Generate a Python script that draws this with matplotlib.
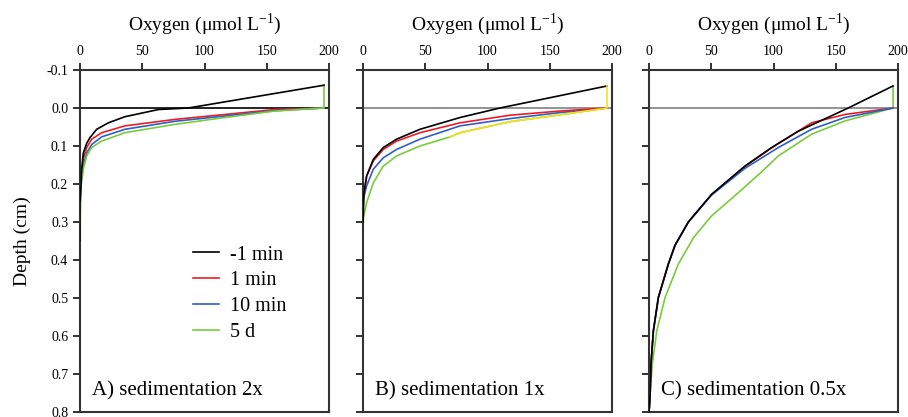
"""
Oxygen depth profiles after sedimentation events (three panels)"""
import numpy as np
import matplotlib
matplotlib.use("Agg")
import matplotlib.pyplot as plt

plt.rcParams['font.family'] = ['Liberation Serif', 'DejaVu Serif']
plt.rcParams['mathtext.fontset'] = 'custom'
plt.rcParams['mathtext.rm'] = 'Liberation Serif'

labels = ['-1 min', '1 min', '10 min', '5 d']
colors = ['black', '#ee1c24', '#2e5fc4', '#78cc3c']
panel_titles = ['A) sedimentation 2x', 'B) sedimentation 1x', 'C) sedimentation 0.5x']
x_ticks = [0, 50, 100, 150, 200]
y_ticks = [-0.1, 0.0, 0.1, 0.2, 0.3, 0.4, 0.5, 0.6, 0.7, 0.8]

# panel A  (oxygen, depth)
a_black_x = [196, 87, 63, 36, 22.8, 13.4, 8, 5.4, 2.7, 1.3, 0.8, 0, 0]
a_black_y = [-0.06, 0.0, 0.004, 0.023, 0.039, 0.056, 0.078, 0.0925, 0.118, 0.162, 0.206, 0.25, 0.35]
a_red_x = [196, 156.6, 116.4, 76.3, 36.1, 17.4, 9.4, 5.4, 2.7, 1.3, 0.5, 0]
a_red_y = [0.0, 0.004, 0.017, 0.030, 0.047, 0.065, 0.082, 0.104, 0.133, 0.177, 0.21, 0.26]
a_blue_x = [196, 156.6, 116.4, 76.3, 36.1, 17.4, 9.4, 5.4, 2.7, 0.8, 0.3, 0]
a_blue_y = [0.0, 0.007, 0.021, 0.035, 0.056, 0.076, 0.096, 0.118, 0.153, 0.196, 0.23, 0.3]
a_green_x = [196, 196, 156.6, 116.4, 76.3, 36.1, 17.4, 9.4, 5.4, 2.7, 0.8, 0.3, 0]
a_green_y = [-0.06, 0.0, 0.008, 0.025, 0.043, 0.065, 0.087, 0.104, 0.126, 0.161, 0.206, 0.26, 0.35]

# panel B
b_black_x = [196, 110, 78, 45.8, 27, 16.3, 8.3, 2.9, 0.8, 0]
b_black_y = [-0.058, 0.0, 0.025, 0.056, 0.082, 0.104, 0.135, 0.179, 0.223, 0.30]
b_red_x = [196, 158, 118, 78, 45.8, 27, 16.3, 8.3, 2.9, 0.3, 0]
b_red_y = [0.0, 0.008, 0.019, 0.039, 0.065, 0.087, 0.109, 0.139, 0.18, 0.23, 0.27]
b_blue_x = [196, 158, 118, 78, 45.8, 27, 16.3, 8.3, 2.9, 0.3, 0]
b_blue_y = [0.0, 0.012, 0.028, 0.047, 0.082, 0.109, 0.131, 0.161, 0.205, 0.24, 0.28]
b_green_x = [196, 158, 118, 78, 70, 45.8, 27, 16.3, 8.3, 2.9, 0.3, 0]
b_green_y = [0.0, 0.018, 0.036, 0.065, 0.076, 0.1, 0.126, 0.153, 0.197, 0.249, 0.29, 0.32]
b_yellow_x = [196, 196, 158, 118, 78, 70]
b_yellow_y = [-0.058, 0.0, 0.018, 0.036, 0.065, 0.076]

# panel C
c_black_x = [196, 160, 120, 98.5, 77, 50.3, 31.6, 20.9, 15.5, 7.5, 3.5, 1.6, 0.8, 0]
c_black_y = [-0.058, 0.0, 0.061, 0.104, 0.153, 0.227, 0.30, 0.361, 0.411, 0.499, 0.587, 0.674, 0.762, 0.8]
c_red_x = [196, 157.4, 130.6, 109, 98.5, 77, 50.3, 31.6, 20.9, 15.5, 7.5, 3.5, 1.6, 0.8, 0]
c_red_y = [0.0, 0.017, 0.039, 0.083, 0.105, 0.154, 0.228, 0.30, 0.361, 0.411, 0.499, 0.587, 0.674, 0.762, 0.8]
c_blue_x = [196, 157.4, 130.6, 103.9, 77, 50.3, 31.6, 20.9, 15.5, 7.5, 3.5, 1.6, 0.8, 0]
c_blue_y = [0.0, 0.025, 0.056, 0.104, 0.159, 0.229, 0.30, 0.362, 0.411, 0.499, 0.587, 0.674, 0.762, 0.8]
c_green_x = [196, 196, 157.4, 130.6, 103.9, 90.5, 71.7, 50.3, 36, 23.5, 12.9, 6.2, 2.7, 1.2, 0]
c_green_y = [-0.058, 0.0, 0.034, 0.069, 0.126, 0.168, 0.223, 0.284, 0.34, 0.411, 0.499, 0.587, 0.674, 0.74, 0.8]

panels = [
    [(a_black_x, a_black_y), (a_red_x, a_red_y), (a_blue_x, a_blue_y), (a_green_x, a_green_y)],
    [(b_black_x, b_black_y), (b_red_x, b_red_y), (b_blue_x, b_blue_y), (b_green_x, b_green_y)],
    [(c_black_x, c_black_y), (c_red_x, c_red_y), (c_blue_x, c_blue_y), (c_green_x, c_green_y)],
]
draw_order = [[1, 2, 3, 0], [3, 2, 1, 0], [3, 1, 2, 0]]
zero_line_colors = ['black', '#808080', '#808080']
lefts = [80, 363, 649]

fig = plt.figure(figsize=(9.08, 4.17), dpi=100)
for p in range(3):
    ax = fig.add_axes([lefts[p] / 908, 5 / 417, 249 / 908, 342 / 417])
    ax.axhline(0.0, color=zero_line_colors[p], lw=1.2, zorder=1)
    handles = [None] * 4
    for i in draw_order[p]:
        xs, ys = panels[p][i]
        line, = ax.plot(xs, ys, color=colors[i], lw=1.2, label=labels[i],
                        zorder=2 + draw_order[p].index(i), solid_joinstyle='round')
        handles[i] = line
    if p == 1:
        ax.plot(b_yellow_x, b_yellow_y, color='#f2e21c', lw=1.2, zorder=6)
    ax.set_xlim(0, 200)
    ax.set_ylim(0.8, -0.1)
    ax.xaxis.tick_top()
    ax.xaxis.set_label_position('top')
    ax.set_xticks(x_ticks)
    ax.set_yticks(y_ticks)
    ax.set_xlabel('Oxygen (μmol L$^{-1}$)', fontsize=14, labelpad=11)
    ax.tick_params(direction='out', length=5, width=1.3, labelsize=10, color='#222222')
    for s in ax.spines.values():
        s.set_linewidth(1.5)
        s.set_color('#333333')
    if p == 0:
        ax.set_yticklabels(['%.1f' % v for v in y_ticks])
        ax.set_ylabel('Depth (cm)', fontsize=14, labelpad=11)
        ax.legend(handles=handles, loc='upper left', bbox_to_anchor=(0.38, 0.54), frameon=False,
                  fontsize=14.5, handlelength=1.3, handletextpad=0.55, labelspacing=0.33)
    else:
        ax.set_yticklabels([])
    ax.text(0.05, 0.035, panel_titles[p], transform=ax.transAxes, fontsize=15, ha='left', va='bottom')

fig.savefig('out.png', dpi=100)
